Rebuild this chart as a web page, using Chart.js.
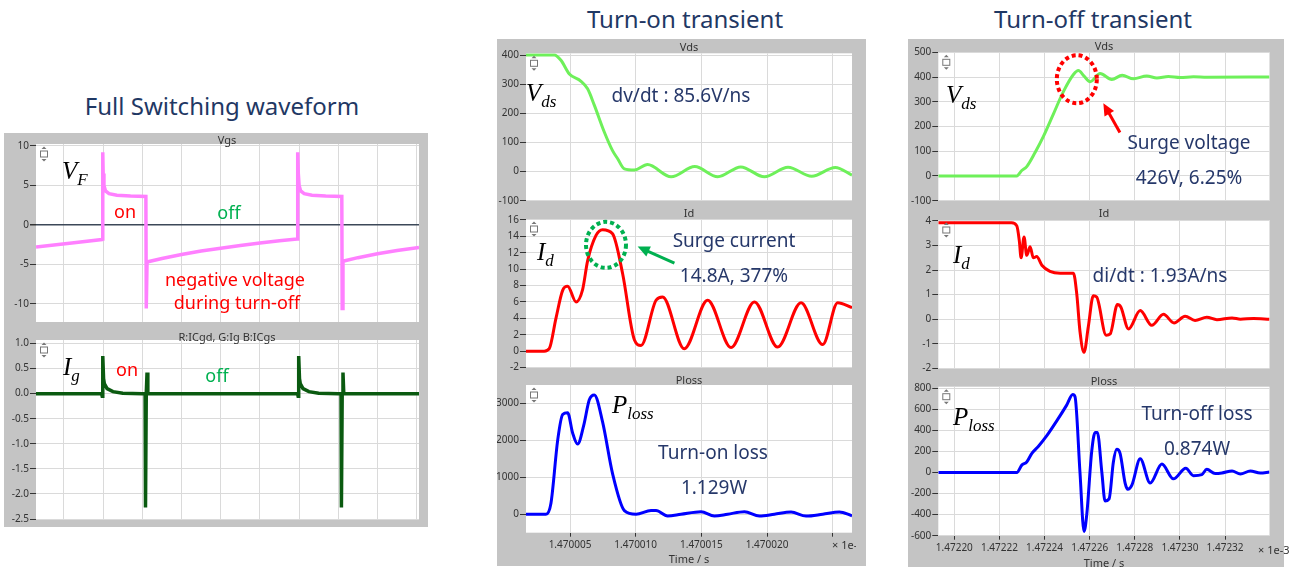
<!DOCTYPE html>
<html>
<head>
<meta charset="utf-8">
<script src="https://cdn.jsdelivr.net/npm/chart.js@4.4.0/dist/chart.umd.min.js"></script>
<style>
body { margin: 0; width: 1291px; height: 570px; background: #fff; position: relative; overflow: hidden; font-family: "Noto Sans", sans-serif; }
#charts canvas { position: absolute; }
.h, .st, .a { position: absolute; white-space: nowrap; transform: translate(-50%, -50%); line-height: 1.2; }
.h { font-size: 24px; color: #1f3864; }
.st { font-size: 11px; color: #333; }
.a { font-size: 19px; color: #26386a; }
.r { color: #ff0000; font-size: 18px; }
.g { color: #00b050; font-size: 18px; }
.mul { position: absolute; font-size: 11px; color: #333; white-space: nowrap; transform: translateY(-50%); overflow: hidden; }
.m { position: absolute; font-family: "Liberation Serif", serif; font-style: italic; font-size: 25px; line-height: 1; color: #000; white-space: nowrap; }
.m span { font-size: 17px; position: relative; top: 6px; }
</style>
</head>
<body>
<div id="charts"></div>

<div class="h" style="left:222px;top:106px">Full Switching waveform</div>
<div class="h" style="left:685px;top:19px">Turn-on transient</div>
<div class="h" style="left:1093px;top:19px">Turn-off transient</div>

<div class="st" style="left:227px;top:140px">Vgs</div>
<div class="st" style="left:227px;top:337px">R:ICgd, G:Ig B:ICgs</div>
<div class="st" style="left:689px;top:47px">Vds</div>
<div class="st" style="left:689px;top:213px">Id</div>
<div class="st" style="left:689px;top:380px">Ploss</div>
<div class="st" style="left:689px;top:559px">Time / s</div>
<div class="mul" style="left:832px;top:544px;width:24px">× 1e-3</div>
<div class="st" style="left:1104px;top:46px">Vds</div>
<div class="st" style="left:1104px;top:213px">Id</div>
<div class="st" style="left:1104px;top:381px">Ploss</div>
<div class="st" style="left:1104px;top:563px">Time / s</div>
<div class="mul" style="left:1258px;top:549px">× 1e-3</div>

<div class="m" style="left:62px;top:158px">V<span>F</span></div>
<div class="a r" style="left:125px;top:212px">on</div>
<div class="a g" style="left:229px;top:213px">off</div>
<div class="a r" style="left:235px;top:280px">negative voltage</div>
<div class="a r" style="left:237px;top:303px">during turn-off</div>
<div class="m" style="left:63px;top:354px">I<span>g</span></div>
<div class="a r" style="left:127px;top:370px">on</div>
<div class="a g" style="left:217px;top:376px">off</div>

<div class="m" style="left:526px;top:80px">V<span>ds</span></div>
<div class="a" style="left:681px;top:95px">dv/dt : 85.6V/ns</div>
<div class="m" style="left:537px;top:239px">I<span>d</span></div>
<div class="a" style="left:734px;top:240px">Surge current</div>
<div class="a" style="left:734px;top:275px">14.8A, 377%</div>
<div class="m" style="left:612px;top:392px">P<span>loss</span></div>
<div class="a" style="left:713px;top:452px">Turn-on loss</div>
<div class="a" style="left:714px;top:487px">1.129W</div>

<div class="m" style="left:946px;top:82px">V<span>ds</span></div>
<div class="a" style="left:1189px;top:142px">Surge voltage</div>
<div class="a" style="left:1189px;top:177px">426V, 6.25%</div>
<div class="m" style="left:953px;top:242px">I<span>d</span></div>
<div class="a" style="left:1160px;top:275px">di/dt : 1.93A/ns</div>
<div class="m" style="left:953px;top:404px">P<span>loss</span></div>
<div class="a" style="left:1197px;top:413px">Turn-off loss</div>
<div class="a" style="left:1197px;top:448px">0.874W</div>

<script>
// Full switching waveform, x in grid divisions
const vgsT = [-0.714, 0.2, 0.97, 0.98, 0.99, 1.0, 1.02, 1.06, 1.15, 1.35, 1.7, 2.09, 2.1, 2.12, 2.5, 3.0, 3.5, 4.0, 4.5, 5.0, 5.5, 5.95, 5.96, 5.97, 5.98, 6.0, 6.04, 6.13, 6.33, 6.68, 7.09, 7.1, 7.12, 7.5, 8.0, 8.5, 9.06];
const vgsV = [-2.8, -2.3, -1.85, -1.8, 9.2, 6.5, 5.0, 4.3, 3.95, 3.75, 3.65, 3.6, -10.6, -4.7, -4.25, -3.75, -3.3, -2.95, -2.6, -2.3, -2.0, -1.8, -1.75, 9.2, 6.5, 5.0, 4.3, 3.95, 3.75, 3.65, 3.6, -10.6, -4.6, -4.15, -3.65, -3.25, -2.85];
const igT = [-0.714, 0.96, 0.975, 0.99, 1.01, 1.03, 1.1, 1.25, 1.5, 2.0, 2.07, 2.08, 2.1, 2.12, 2.14, 5.96, 5.975, 5.99, 6.01, 6.03, 6.1, 6.25, 6.5, 7.0, 7.07, 7.08, 7.1, 7.12, 7.14, 9.06];
const igV = [0, 0, -0.05, 0.75, 0.3, 0.2, 0.1, 0.04, 0.01, 0, 0, -2.27, 0, 0.42, 0, 0, -0.05, 0.75, 0.3, 0.2, 0.1, 0.04, 0.01, 0, 0, -2.27, 0, 0.42, 0, 0];
const swTicks = [0, 1, 2, 3, 4, 5, 6, 7, 8, 9];

// Turn-on transient, t in ns after 1.470000 ms
const onVdsT = [1.65, 3.8, 4.31, 4.95, 5.84, 6.34, 6.85, 7.61, 8.24, 8.63, 9.14, 9.9, 10.9, 12.7, 14.5, 16.25, 18.0, 19.8, 21.6, 23.4, 25.2, 26.47];
const onVdsV = [400, 400, 382, 335, 310, 284, 228, 136, 72, 44, 9, 5, 24, -18, 17, -18, 16, -18, 15, -16, 14, -12];
const onIdT = [1.65, 3.04, 3.42, 3.93, 4.44, 4.82, 5.46, 5.96, 6.34, 6.98, 7.48, 8.24, 9.0, 9.9, 10.41, 11.55, 12.05, 13.7, 15.48, 17.26, 19.04, 20.81, 22.59, 24.24, 25.38, 26.47];
const onIdV = [0, 0, 0.3, 4.0, 7.4, 7.9, 6.0, 7.5, 11, 14.1, 14.8, 14.3, 9.5, 1.4, 0.7, 6.2, 6.6, 0.3, 6.2, 0.45, 6.0, 0.5, 5.9, 0.8, 5.9, 5.3];
const onPlossT = [1.65, 3.17, 3.55, 4.06, 4.44, 4.82, 5.2, 5.58, 6.04, 6.47, 6.85, 7.48, 8.24, 9.14, 10.03, 11.17, 11.55, 12.43, 13.45, 14.98, 15.99, 17.0, 18.28, 19.42, 20.56, 21.83, 22.97, 24.24, 25.51, 26.47];
const onPlossV = [0, 0, 300, 2000, 2700, 2750, 2200, 1900, 2400, 3100, 3230, 2500, 1100, 100, 0, 100, 100, -50, 0, 70, -50, 0, 70, -50, 0, 60, -50, 0, 60, -40];
const onTicks = [5, 10, 15, 20, 25];

// Turn-off transient, t in ns after 1.47220 ms
const offVdsT = [-7.1, 27.65, 29.9, 32.1, 35.8, 39.5, 43.9, 48.3, 52.8, 55.0, 57.4, 60.2, 64.6, 69.8, 74.4, 79.4, 85.3, 89.8, 94.9, 100.1, 106, 112, 139.7];
const offVdsV = [0, 0, 22, 38, 95, 160, 250, 340, 410, 426, 405, 381, 414, 390, 407, 393, 404, 396, 402, 398, 401, 399.5, 400];
const offIdT = [-7.1, 25.4, 27.7, 28.8, 29.6, 30.9, 32.1, 33.6, 35.0, 36.5, 38.8, 42.4, 46.9, 52.8, 54.3, 55.7, 57.5, 59.4, 61.6, 63.1, 67.3, 69.1, 72.3, 73.8, 77.2, 82.4, 87.5, 92.7, 97.4, 102.3, 106.7, 111.9, 116.4, 123.1, 126.8, 132.6, 139.7];
const offIdV = [3.93, 3.93, 3.8, 3.2, 2.5, 3.35, 2.6, 2.95, 2.5, 2.55, 2.2, 1.95, 1.87, 1.87, 1.0, -0.5, -1.35, -0.3, 0.95, 0.9, -0.65, -0.6, 0.6, 0.5, -0.4, 0.35, -0.25, 0.2, -0.15, 0.12, -0.05, 0.08, -0.02, 0.05, 0, 0.03, 0];
const offPlossT = [-7.1, 27.7, 29.9, 32.1, 34.3, 37.3, 41.0, 45.4, 49.8, 52.5, 53.5, 55.7, 57.5, 58.7, 60.9, 62.4, 63.4, 65.4, 66.8, 68.6, 70.5, 72.0, 73.5, 75.7, 76.9, 78.7, 82.4, 86.8, 92.0, 97.1, 102.6, 106, 109.7, 111.9, 115.6, 118.6, 123.1, 126.8, 131.2, 135.6, 139.7];
const offPlossV = [0, 0, 70, 100, 180, 250, 350, 490, 640, 740, 720, 0, -560, -400, 200, 380, 380, 0, -270, -250, 100, 220, 180, -100, -160, -120, 130, -100, 80, -60, 40, -30, -20, 30, -10, -5, 15, -15, 15, -5, 5];
const offTicks = [0, 20, 40, 60, 80, 100, 120];

const gridCol = '#dadada';
const tickFont = { family: 'Noto Sans', size: 10 };

// gray panel + white plot area, and the little scroll icon in the corner
const panelBg = {
    id: 'panelBg',
    beforeDraw(chart) {
        const { ctx, chartArea: a } = chart;
        ctx.save();
        ctx.fillStyle = '#c4c4c4';
        ctx.fillRect(0, 0, chart.width, chart.height);
        ctx.fillStyle = '#fff';
        ctx.fillRect(a.left, a.top, a.right - a.left, a.bottom - a.top);
        ctx.restore();
    },
    afterDraw(chart) {
        const { ctx, chartArea: a } = chart;
        const cx = a.left + 8, cy = a.top + 10;
        ctx.save();
        ctx.fillStyle = '#777';
        ctx.strokeStyle = '#777';
        ctx.lineWidth = 1;
        ctx.beginPath();
        ctx.moveTo(cx - 2.5, cy - 5); ctx.lineTo(cx + 2.5, cy - 5); ctx.lineTo(cx, cy - 7.5); ctx.closePath();
        ctx.moveTo(cx - 2.5, cy + 5); ctx.lineTo(cx + 2.5, cy + 5); ctx.lineTo(cx, cy + 7.5); ctx.closePath();
        ctx.fill();
        ctx.fillStyle = '#fff';
        ctx.fillRect(cx - 3.5, cy - 3, 7, 6);
        ctx.strokeRect(cx - 3.5, cy - 3, 7, 6);
        ctx.restore();
    }
};

// dotted rings and arrows, placed in data units
const marks = {
    id: 'marks',
    afterDatasetsDraw(chart, args, opts) {
        const { ctx, scales: { x, y } } = chart;
        (opts.rings || []).forEach(r => {
            ctx.save();
            ctx.strokeStyle = r.color;
            ctx.lineWidth = 4;
            ctx.setLineDash([4, 3]);
            ctx.beginPath();
            ctx.ellipse(x.getPixelForValue(r.x), y.getPixelForValue(r.y), r.rx, r.ry, 0, 0, Math.PI * 2);
            ctx.stroke();
            ctx.restore();
        });
        (opts.arrows || []).forEach(a => {
            const x1 = x.getPixelForValue(a.x1), y1 = y.getPixelForValue(a.y1);
            const x2 = x.getPixelForValue(a.x2), y2 = y.getPixelForValue(a.y2);
            const ang = Math.atan2(y2 - y1, x2 - x1);
            ctx.save();
            ctx.strokeStyle = a.color;
            ctx.fillStyle = a.color;
            ctx.lineWidth = 3;
            ctx.beginPath();
            ctx.moveTo(x1, y1);
            ctx.lineTo(x2 - 9 * Math.cos(ang), y2 - 9 * Math.sin(ang));
            ctx.stroke();
            ctx.translate(x2, y2);
            ctx.rotate(ang);
            ctx.beginPath();
            ctx.moveTo(0, 0);
            ctx.lineTo(-12, -5.5);
            ctx.lineTo(-12, 5.5);
            ctx.closePath();
            ctx.fill();
            ctx.restore();
        });
    }
};

function pts(t, v) {
    return t.map((x, i) => ({ x, y: v[i] }));
}

function panel(box, area, o) {
    const cv = document.createElement('canvas');
    cv.width = box.w;
    cv.height = box.h;
    cv.style.left = box.x + 'px';
    cv.style.top = box.y + 'px';
    document.getElementById('charts').appendChild(cv);
    const xh = o.xLabels ? 30 : 0;
    const isZero = c => o.zero && c.tick && c.tick.value === 0;

    return new Chart(cv, {
        type: 'line',
        data: {
            datasets: [{
                data: pts(o.t, o.v),
                borderColor: o.color,
                borderWidth: o.lw || 3,
                pointRadius: 0,
                tension: 0,
                cubicInterpolationMode: o.smooth ? 'monotone' : 'default'
            }]
        },
        options: {
            responsive: false,
            animation: false,
            devicePixelRatio: 1,
            events: [],
            layout: {
                padding: { left: 0, top: area.t - box.y, right: box.x + box.w - area.r, bottom: box.y + box.h - area.b - xh }
            },
            plugins: { legend: { display: false }, tooltip: { enabled: false }, marks: o.marks || {} },
            scales: {
                x: {
                    type: 'linear',
                    min: o.xMin,
                    max: o.xMax,
                    afterBuildTicks: s => { s.ticks = o.xTicks.map(value => ({ value })); },
                    afterFit: s => { s.height = xh; s.paddingLeft = 0; s.paddingRight = 0; },
                    border: { display: false },
                    grid: { color: gridCol, drawTicks: !!o.xLabels, tickLength: 4, tickColor: '#333' },
                    ticks: {
                        display: !!o.xLabels, maxRotation: 0, minRotation: 0, autoSkip: false,
                        padding: 2, font: tickFont, color: '#333', callback: o.xLabels
                    }
                },
                y: {
                    min: o.yMin,
                    max: o.yMax,
                    afterBuildTicks: s => { s.ticks = o.yTicks.map(value => ({ value })); },
                    afterFit: s => { s.width = area.l - box.x; s.paddingTop = 0; s.paddingBottom = 0; },
                    border: { display: false },
                    grid: {
                        color: c => isZero(c) ? '#3c4858' : gridCol,
                        lineWidth: c => isZero(c) ? 1.5 : 1,
                        tickColor: '#333',
                        tickLength: 6
                    },
                    ticks: { font: tickFont, color: '#333', padding: 1, callback: o.yFmt || (v => String(v)) }
                }
            }
        },
        plugins: [panelBg, marks]
    });
}

const onLabels = v => v === 25 ? '' : (1.47 + v * 1e-6).toFixed(6);
const offLabels = v => (1.4722 + v * 1e-6).toFixed(5);

// left: full switching waveform
panel({ x: 4, y: 133, w: 424, h: 193 }, { l: 36, t: 144, r: 419, b: 322 }, {
    t: vgsT, v: vgsV, color: '#ff80ff', lw: 3.5, zero: true,
    xMin: -0.714, xMax: 9.06, xTicks: swTicks,
    yMin: -12.3, yMax: 10.25, yTicks: [-10, -5, 0, 5, 10]
});
panel({ x: 4, y: 326, w: 424, h: 201 }, { l: 36, t: 340, r: 419, b: 519 }, {
    t: igT, v: igV, color: '#0a5a10', lw: 3.5,
    xMin: -0.714, xMax: 9.06, xTicks: swTicks,
    yMin: -2.5, yMax: 1.07, yTicks: [-2.5, -2, -1.5, -1, -0.5, 0, 0.5, 1], yFmt: v => v.toFixed(1)
});

// middle: turn-on
panel({ x: 497, y: 39, w: 369, h: 166 }, { l: 526, t: 53.3, r: 852, b: 200.7 }, {
    t: onVdsT, v: onVdsV, color: '#6ef05a', smooth: true,
    xMin: 1.65, xMax: 26.47, xTicks: onTicks,
    yMin: -100, yMax: 406, yTicks: [-100, 0, 100, 200, 300, 400]
});
panel({ x: 497, y: 205, w: 369, h: 166 }, { l: 526, t: 219, r: 852, b: 368 }, {
    t: onIdT, v: onIdV, color: '#ff0000', smooth: true,
    xMin: 1.65, xMax: 26.47, xTicks: onTicks,
    yMin: -2.05, yMax: 16.1, yTicks: [-2, 0, 2, 4, 6, 8, 10, 12, 14, 16],
    marks: {
        rings: [{ x: 7.74, y: 12.95, rx: 20, ry: 23, color: '#00b050' }],
        arrows: [{ x1: 12.95, y1: 10.72, x2: 10.15, y2: 12.74, color: '#00b050' }]
    }
});
panel({ x: 497, y: 371, w: 369, h: 195 }, { l: 526, t: 385, r: 852, b: 532.7 }, {
    t: onPlossT, v: onPlossV, color: '#0000ff', smooth: true,
    xMin: 1.65, xMax: 26.47, xTicks: onTicks, xLabels: onLabels,
    yMin: -500, yMax: 3500, yTicks: [0, 1000, 2000, 3000]
});

// right: turn-off
panel({ x: 908, y: 39, w: 376, h: 166 }, { l: 938.3, t: 52.3, r: 1269.5, b: 200.7 }, {
    t: offVdsT, v: offVdsV, color: '#6ef05a', smooth: true,
    xMin: -7.1, xMax: 139.7, xTicks: offTicks,
    yMin: -100, yMax: 500, yTicks: [-100, 0, 100, 200, 300, 400, 500],
    marks: {
        rings: [{ x: 54.3, y: 391, rx: 20, ry: 24, color: '#ff0000' }],
        arrows: [{ x1: 73.4, y1: 176, x2: 66.05, y2: 294, color: '#ff0000' }]
    }
});
panel({ x: 908, y: 205, w: 376, h: 166 }, { l: 938.3, t: 220, r: 1269.5, b: 368.3 }, {
    t: offIdT, v: offIdV, color: '#ff0000', smooth: true,
    xMin: -7.1, xMax: 139.7, xTicks: offTicks,
    yMin: -2, yMax: 4.04, yTicks: [-2, -1, 0, 1, 2, 3, 4]
});
panel({ x: 908, y: 371, w: 376, h: 196 }, { l: 938.3, t: 386.7, r: 1269.5, b: 535.7 }, {
    t: offPlossT, v: offPlossV, color: '#0000ff', smooth: true,
    xMin: -7.1, xMax: 139.7, xTicks: offTicks, xLabels: offLabels,
    yMin: -600, yMax: 815, yTicks: [-600, -400, -200, 0, 200, 400, 600, 800]
});
</script>
</body>
</html>
